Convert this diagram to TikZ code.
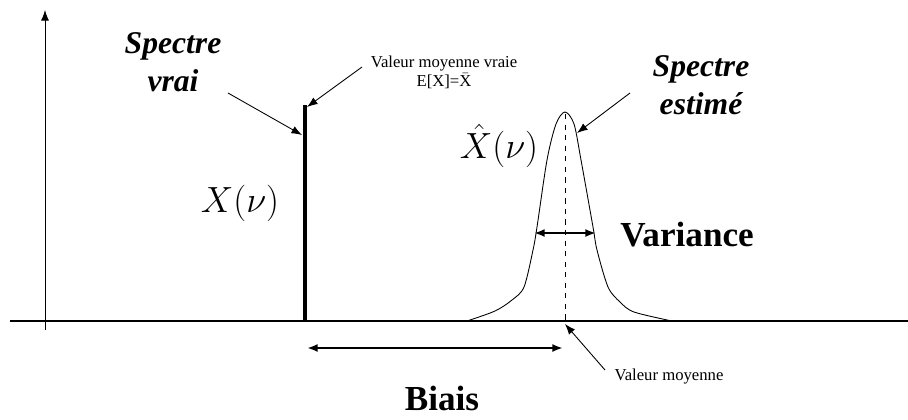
\documentclass[tikz,border=0pt]{standalone}
\usepackage{fontspec}
\setmainfont{Liberation Serif}
\usetikzlibrary{arrows.meta, positioning}

\begin{document}
\begin{tikzpicture}[x=0.02cm, y=-0.02cm,
  note/.style={font=\fontsize{9.5}{11}\selectfont, align=center, inner sep=1pt},
  spec/.style={font=\fontsize{18}{21.5}\selectfont\bfseries\itshape, align=center, inner sep=1pt},
  big/.style={font=\fontsize{20}{24}\selectfont\bfseries, inner sep=1pt},
  sym/.style={font=\fontsize{20}{24}\selectfont, inner sep=1pt},
  ptr/.style={-{Latex[length=6pt,width=4.5pt]}, line width=0.5pt},
  span/.style={{Latex[length=6pt,width=4.5pt]}-{Latex[length=6pt,width=4.5pt]}, line width=1.2pt}
]
  \useasboundingbox (0,0) rectangle (908,419);

  % axes
  \draw[-{Latex[length=6pt,width=4.5pt]}, line width=0.5pt] (45,330) -- (45,10);
  \draw[line width=1pt] (10,321) -- (908,321);

  % true spectrum: a single line
  \draw[line width=1.8pt] (305,321) -- (305,105);
  \coordinate (bartip) at (302,135);
  \coordinate (bartop) at (307,107);

  % estimated spectrum
  \draw[line width=0.5pt] plot[smooth, tension=0.5] coordinates {
    (467,321) (495,311) (512,300) (524,287) (533,250) (537,227) (547,160)
    (556,124) (565,112) (574,124) (581,160) (593,227) (597,250) (608,287)
    (620,302) (634,312) (672,321)};
  \draw[dashed, line width=0.5pt] (565,114) -- (565,321);
  \coordinate (mean) at (565,324);
  \coordinate (peak) at (577,133);

  % labels
  \node[spec] (sv) at (173,62) {Spectre\\vrai};
  \node[spec] (se) at (701,85) {Spectre\\estimé};
  \node[note] (vmv) at (444,72) {Valeur moyenne vraie\\E[X]=$\bar{\mathrm{X}}$};
  \node[note] (vm) at (669,377) {Valeur moyenne};
  \node[sym] (xt) at (240,203) {$X(\nu)$};
  \node[sym] (xe) at (499,146) {$\hat{X}(\nu)$};
  \node[big] (var) at (687,235) {Variance};
  \node[big] (bias) at (442,398) {Biais};

  % pointers
  \draw[ptr] (228,93) -- (bartip);
  \draw[ptr] (362,67) -- (bartop);
  \draw[ptr] (630,93) -- (peak);
  \draw[ptr] (605,370) -- (mean);

  % widths
  \draw[span] (534,233) -- (596,233);
  \draw[span] (307,348) -- (563,348);
\end{tikzpicture}
\end{document}
